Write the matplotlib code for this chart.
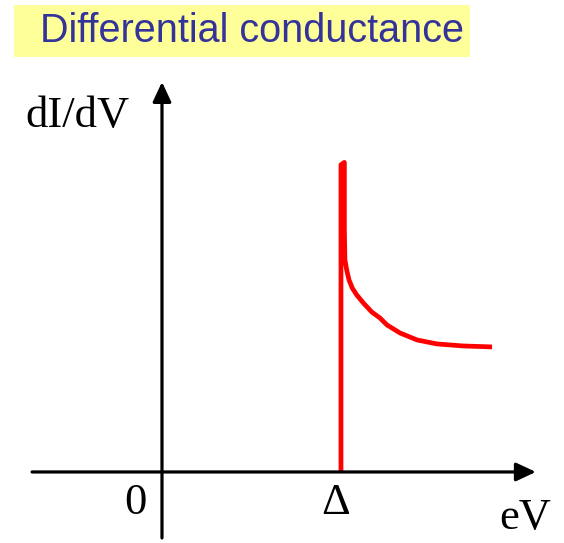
import matplotlib
matplotlib.use('Agg')
import matplotlib.pyplot as plt
from matplotlib.patches import Rectangle

# conductance curve, energy in units of the gap, dI/dV in units of the normal state
energy = [1.0, 1.0, 1.019, 1.019, 1.022, 1.032, 1.045, 1.063, 1.088, 1.125,
          1.172, 1.218, 1.257, 1.330, 1.425, 1.536, 1.682, 1.844]
didv = [0.0, 2.56, 2.58, 2.017, 1.767, 1.683, 1.60, 1.533, 1.475, 1.408,
        1.333, 1.283, 1.225, 1.158, 1.10, 1.067, 1.05, 1.042]

title = 'Differential conductance'
xlabel = 'eV'
ylabel = 'dI/dV'
xticks = [0.0, 1.0]
xticklabels = ['0', 'Δ']

W, H = 564, 543
fig = plt.figure(figsize=(W / 100, H / 100), dpi=100)
ax = fig.add_axes([0, 0, 1, 1])
ax.set_xlim(-0.905, 2.246)
ax.set_ylim(-0.592, 3.933)
ax.axis('off')

# axes with arrow heads
arrow = dict(arrowstyle='-|>,head_length=0.6,head_width=0.28', lw=2.3,
             color='black', mutation_scale=20, shrinkA=0, shrinkB=0)
ax.annotate('', xy=(2.089, 0), xytext=(-0.726, 0), arrowprops=arrow)
ax.annotate('', xy=(0, 3.25), xytext=(0, -0.55), arrowprops=arrow)

ax.plot(energy, didv, color='#ff0000', lw=3.4, solid_joinstyle='round',
        solid_capstyle='butt')

serif = 'Liberation Serif'
tick_x = [-0.15, 0.97]
for x, lab in zip(tick_x, xticklabels):
    ax.text(x, -0.26, lab, fontsize=32, family=serif, ha='center', va='center')
ax.text(2.03, -0.38, xlabel, fontsize=32, family=serif, ha='center', va='center')
ax.text(-0.47, 2.97, ylabel, fontsize=32, family=serif, ha='center', va='center')

# title on a pale yellow band
fig.patches.append(Rectangle((14 / W, 1 - 57 / H), 456 / W, 52 / H,
                             transform=fig.transFigure, fc='#ffff99', ec='none'))
fig.text(40 / W, 1 - 31 / H, title, fontsize=28.5, family='Liberation Sans',
         color='#333399', ha='left', va='center')

fig.savefig('out.png', dpi=100)
